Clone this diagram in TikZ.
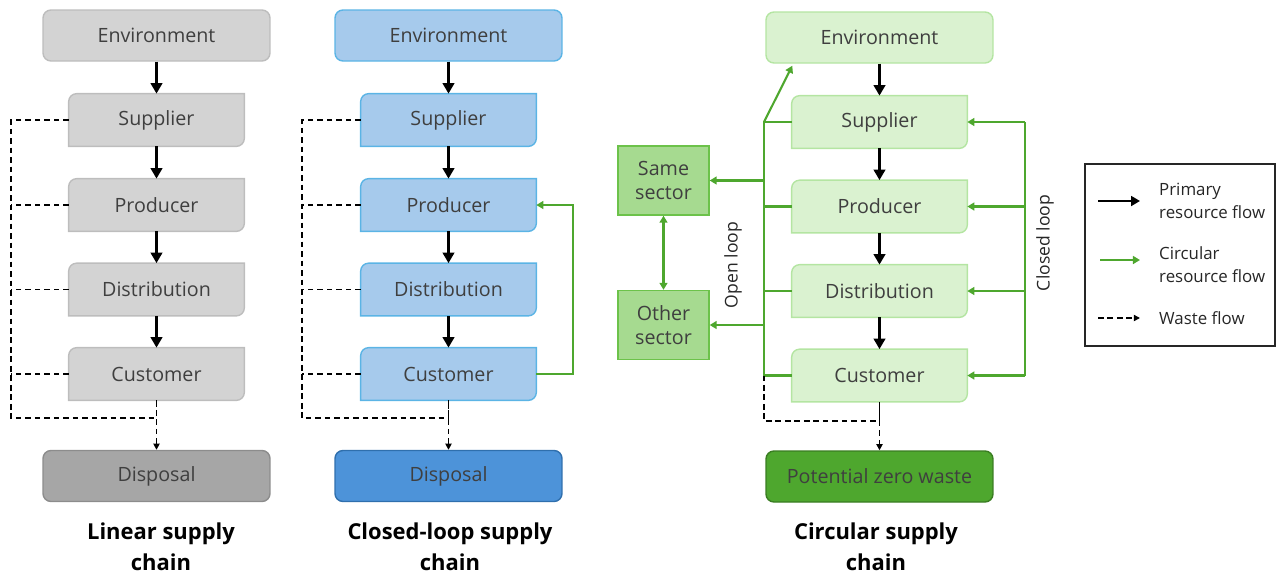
\documentclass[tikz,border=0pt]{standalone}
\usepackage{fontspec}
\setmainfont{Open Sans}
\usetikzlibrary{arrows.meta,calc}
\pgfdeclarelayer{background}
\pgfsetlayers{background,main}

\definecolor{txtgrey}{HTML}{3F3F3F}
\definecolor{txtdark}{HTML}{262626}
\definecolor{greyfill}{HTML}{D3D3D3}
\definecolor{greyline}{HTML}{BDBDBD}
\definecolor{greydark}{HTML}{A6A6A6}
\definecolor{greydarkline}{HTML}{8C8C8C}
\definecolor{bluefill}{HTML}{A6CAEC}
\definecolor{blueline}{HTML}{5BB4E5}
\definecolor{bluedark}{HTML}{4D93D9}
\definecolor{bluedarkline}{HTML}{2F6FAD}
\definecolor{greenfill}{HTML}{DAF2D0}
\definecolor{greenline}{HTML}{B4E5A2}
\definecolor{sectorfill}{HTML}{A6DA90}
\definecolor{sectorline}{HTML}{6CC24A}
\definecolor{cgreen}{HTML}{4EA72E}
\definecolor{cgreendark}{HTML}{3A7D22}

\tikzset{
  lbl/.style={font=\fontsize{11.2}{13}\selectfont, text=txtgrey},
  midbox/.style={minimum width=3.5cm, minimum height=1.04cm, inner sep=0pt, lbl},
  endbox/.style={minimum width=4.54cm, minimum height=1.02cm, inner sep=0pt,
    rounded corners=4.5pt, line width=0.8pt, lbl},
  secbox/.style={minimum width=1.82cm, minimum height=1.38cm, inner sep=0pt,
    align=center, fill=sectorfill, draw=sectorline, line width=0.8pt,
    font=\fontsize{11.2}{14}\selectfont, text=txtgrey},
  title/.style={font=\bfseries\fontsize{12.5}{17.6}\selectfont, align=center, text=black},
  sidelbl/.style={font=\fontsize{10}{12}\selectfont, text=txtdark, rotate=90},
  legtxt/.style={font=\fontsize{9.6}{13}\selectfont, text=txtdark, align=left, anchor=west},
  prim/.style={-{Triangle[length=6pt,width=6.5pt]}, line width=1.6pt},
  gline/.style={draw=cgreen, line width=1.2pt},
  circ/.style={gline, -{Triangle[length=4pt,width=4.5pt]}},
  waste/.style={line width=0.9pt, dash pattern=on 3.2pt off 2.2pt},
  wastearr/.style={waste, -{Triangle[length=3.5pt,width=3.5pt]}}
}

% Box outline with the top-left and bottom-right corners rounded
\newcommand\diagcut[2]{%
  \begin{pgfonlayer}{background}
  \path[#2] ($(#1.north west)+(0,-4.5pt)$) arc[start angle=180,end angle=90,radius=4.5pt]
    -- (#1.north east) -- ($(#1.south east)+(0,4.5pt)$)
    arc[start angle=0,end angle=-90,radius=4.5pt] -- (#1.south west) -- cycle;
  \end{pgfonlayer}}

\begin{document}
\begin{tikzpicture}[x=0.02cm,y=-0.02cm]
\useasboundingbox (0,0) rectangle (1276,576);

% ---------------- Linear supply chain ----------------
\node[endbox, fill=greyfill, draw=greyline] (e1) at (156.5,35.5) {Environment};
\node[midbox] (s1) at (156.5,120) {Supplier};
\node[midbox] (p1) at (156.5,205) {Producer};
\node[midbox] (d1) at (156.5,289.5) {Distribution};
\node[midbox] (c1) at (156.5,374) {Customer};
\node[endbox, fill=greydark, draw=greydarkline] (x1) at (156.5,476) {Disposal};
\foreach \n in {s1,p1,d1,c1}{\diagcut{\n}{fill=greyfill, draw=greyline, line width=0.8pt}}
\node[title] (t1) at (161,547) {Linear supply\\chain};

\draw[prim] (e1) -- (s1);
\draw[prim] (s1) -- (p1);
\draw[prim] (p1) -- (d1);
\draw[prim] (d1) -- (c1);

\coordinate (lt1) at (11,120);
\coordinate (lb1) at (11,418);
\draw[waste] (s1.west) -- (lt1) -- (lb1) -- (lb1 -| c1.south) -- (c1.south);
\draw[waste] (p1.west) -- (p1.west -| lt1);
\draw[waste] (d1.west) -- (d1.west -| lt1);
\draw[waste] (c1.west) -- (c1.west -| lt1);
\draw[wastearr] (c1.south) -- (x1.north);

% ---------------- Closed-loop supply chain ----------------
\node[endbox, fill=bluefill, draw=blueline] (e2) at (448.5,35.5) {Environment};
\node[midbox] (s2) at (448.5,120) {Supplier};
\node[midbox] (p2) at (448.5,205) {Producer};
\node[midbox] (d2) at (448.5,289.5) {Distribution};
\node[midbox] (c2) at (448.5,374) {Customer};
\node[endbox, fill=bluedark, draw=bluedarkline] (x2) at (448.5,476) {Disposal};
\foreach \n in {s2,p2,d2,c2}{\diagcut{\n}{fill=bluefill, draw=blueline, line width=0.8pt}}
\node[title] (t2) at (450,547) {Closed-loop supply\\chain};

\draw[prim] (e2) -- (s2);
\draw[prim] (s2) -- (p2);
\draw[prim] (p2) -- (d2);
\draw[prim] (d2) -- (c2);

\coordinate (lt2) at (302,120);
\coordinate (lb2) at (302,418);
\draw[waste] (s2.west) -- (lt2) -- (lb2) -- (lb2 -| c2.south) -- (c2.south);
\draw[waste] (p2.west) -- (p2.west -| lt2);
\draw[waste] (d2.west) -- (d2.west -| lt2);
\draw[waste] (c2.west) -- (c2.west -| lt2);
\draw[wastearr] (c2.south) -- (x2.north);

\coordinate (loop2) at (573,374);
\draw[circ] (c2.east) -- (loop2) |- (p2.east);

% ---------------- Circular supply chain ----------------
\node[endbox, fill=greenfill, draw=greenline] (e3) at (879.5,37.5) {Environment};
\node[midbox] (s3) at (879.5,122) {Supplier};
\node[midbox] (p3) at (879.5,206.5) {Producer};
\node[midbox] (d3) at (879.5,291) {Distribution};
\node[midbox] (c3) at (879.5,375.5) {Customer};
\node[endbox, fill=cgreen, draw=cgreendark] (x3) at (879.5,476.5) {Potential zero waste};
\foreach \n in {s3,p3,d3,c3}{\diagcut{\n}{fill=greenfill, draw=greenline, line width=0.8pt}}
\node[title] (t3) at (876,547) {Circular supply\\chain};

\node[secbox] (ss) at (663.5,180.5) {Same\\sector};
\node[secbox] (os) at (663.5,325) {Other\\sector};

\draw[prim] (e3) -- (s3);
\draw[prim] (s3) -- (p3);
\draw[prim] (p3) -- (d3);
\draw[prim] (d3) -- (c3);

% open loop trunk
\coordinate (gt) at (764,122);
\coordinate (gb) at (764,375.5);
\draw[gline] (s3.west) -- (gt) -- (gb) -- (c3.west);
\draw[gline] (p3.west) -- (p3.west -| gt);
\draw[gline] (d3.west) -- (d3.west -| gt);
\draw[circ] (gt) -- ([xshift=0.54cm,yshift=-0.04cm]e3.south west);
\draw[circ] (gt |- ss.east) -- (ss.east);
\draw[circ] (gt |- os.east) -- (os.east);
\draw[gline, {Triangle[length=4pt,width=4.5pt]}-{Triangle[length=4pt,width=4.5pt]}] (ss.south) -- (os.north);
\node[sidelbl] (ol) at (733,265) {Open loop};

% closed loop trunk
\coordinate (rt) at (1025,122);
\coordinate (rb) at (1025,375.5);
\draw[gline] (rt) -- (rb);
\draw[circ] (rt) -- (s3.east);
\draw[circ] (p3.east -| rt) -- (p3.east);
\draw[circ] (d3.east -| rt) -- (d3.east);
\draw[circ] (rb) -- (c3.east);
\node[sidelbl] (cl) at (1045,243) {Closed loop};

% waste
\coordinate (gd) at (764,421);
\draw[waste] (gb) -- (gd) -- (gd -| c3.south) -- (c3.south);
\draw[wastearr] (c3.south) -- (x3.north);

% ---------------- Legend ----------------
\node[draw=txtdark, line width=0.8pt, minimum width=3.8cm, minimum height=3.64cm, inner sep=0pt] (leg) at (1180,255) {};
\coordinate (la1) at (1098,201);
\coordinate (lb1) at (1140,201);
\coordinate (la2) at (1100,260);
\coordinate (lb2) at (1140,260);
\coordinate (la3) at (1098,318);
\coordinate (lb3) at (1140,318);
\draw[line width=1.6pt, -{Triangle[length=5pt,width=5.5pt]}] (la1) -- (lb1);
\draw[circ] (la2) -- (lb2);
\draw[wastearr] (la3) -- (lb3);
\node[legtxt] (lt1) at (1153,201) {Primary\\resource flow};
\node[legtxt] (lt2) at (1153,265) {Circular\\resource flow};
\node[legtxt] (lt3) at (1153,318) {Waste flow};
\end{tikzpicture}
\end{document}
